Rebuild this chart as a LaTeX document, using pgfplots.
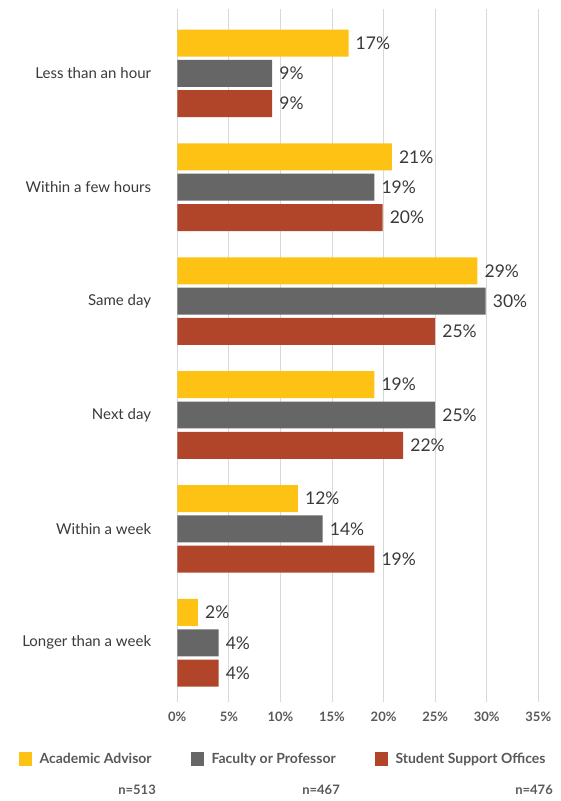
\documentclass[border=0pt]{standalone}
\usepackage{pgfplots}
\pgfplotsset{compat=1.18}
\usepackage{fontspec}
\setmainfont{Lato}
\definecolor{cA}{HTML}{FDC214}
\definecolor{cF}{HTML}{666666}
\definecolor{cS}{HTML}{B0452A}
\definecolor{txt}{HTML}{3A3A3A}
\definecolor{tickc}{HTML}{595959}
\definecolor{gridc}{HTML}{D9D9D9}
\pgfplotsset{sqlegend/.style={legend image code/.code={\draw[##1,draw=none] (0pt,-7pt) rectangle (13pt,7pt);}}}
\begin{document}
\begin{tikzpicture}[x=1pt,y=1pt]
\begin{axis}[
  at={(177.3pt,99pt)}, anchor=south west,
  scale only axis, width=361pt, height=693pt,
  xbar,
  xmin=0, xmax=35, ymin=-0.52, ymax=5.565,
  xtick={0,5,...,35},
  xticklabel={\pgfmathprintnumber{\tick}\%},
  ytick={0,...,5},
  yticklabels={Longer than a week,Within a week,Next day,Same day,Within a few hours,Less than an hour},
  /pgf/number format/assume math mode=true,
  xmajorgrids, grid style={gridc, line width=1pt},
  axis line style={draw=none}, major tick length=0pt,
  xticklabel style={font=\bfseries\fontsize{13}{15}\selectfont, text=tickc, inner sep=0pt, yshift=-10pt},
  yticklabel style={font=\fontsize{15}{17}\selectfont, text=txt, inner sep=0pt, xshift=-26pt},
  bar width=0.237,
  nodes near coords={\pgfmathprintnumber[fixed,precision=0]{\pgfplotspointmeta}\%},
  point meta=x,
  nodes near coords style={font=\fontsize{17.5}{19}\selectfont, text=txt, inner sep=0pt, xshift=7pt, anchor=west},
  legend columns=3,
  legend cell align=left,
  legend style={draw=none, fill=none, inner sep=0pt, at={(axis description cs:-0.4404,-0.0823)}, anchor=west,
    font=\bfseries\fontsize{14}{16}\selectfont, text=tickc,
    nodes={inner sep=0pt},
    /tikz/every odd column/.append style={column sep=8pt},
    /tikz/every even column/.append style={column sep=34pt}},
]
\addplot[fill=cA, draw=none, bar shift=0.266, sqlegend] coordinates {(16.6,5) (20.8,4) (29.1,3) (19.1,2) (11.7,1) (2.0,0)};
\addplot[fill=cF, draw=none, bar shift=0, sqlegend] coordinates {(9.2,5) (19.1,4) (29.9,3) (25.0,2) (14.1,1) (4.0,0)};
\addplot[fill=cS, draw=none, bar shift=-0.266, sqlegend] coordinates {(9.2,5) (19.9,4) (25.0,3) (21.9,2) (19.1,1) (4.0,0)};
\legend{\makebox[117pt][l]{Academic Advisor},\makebox[129pt][l]{Faculty or Professor},\makebox[156pt][l]{Student Support Offices}}
\end{axis}
\begin{scope}[every node/.style={anchor=east, inner sep=0pt, font=\bfseries\fontsize{13}{15}\selectfont, text=tickc}]
\node at (156,11) {n=513};
\node at (340,11) {n=467};
\node at (553,11) {n=476};
\end{scope}
\pgfresetboundingbox
\path (0,0) rectangle (560,801);
\end{tikzpicture}
\end{document}
